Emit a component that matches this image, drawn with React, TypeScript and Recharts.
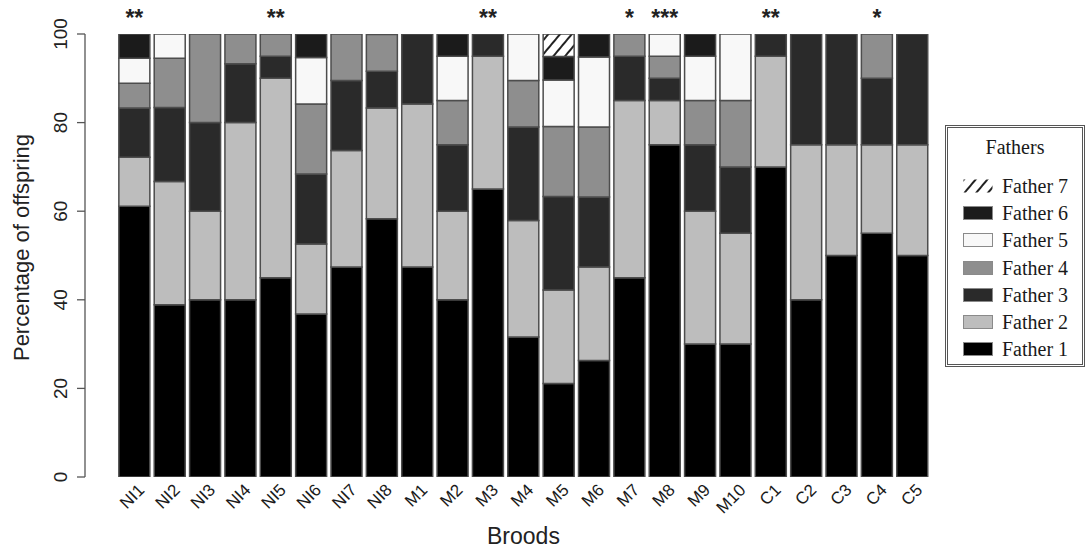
import React from 'react';
import { BarChart, Bar, XAxis, YAxis, LabelList, Label } from 'recharts';

const broods = ['NI1', 'NI2', 'NI3', 'NI4', 'NI5', 'NI6', 'NI7', 'NI8', 'M1', 'M2', 'M3', 'M4', 'M5', 'M6', 'M7', 'M8', 'M9', 'M10', 'C1', 'C2', 'C3', 'C4', 'C5'];
const father1 = [61.1, 38.9, 40, 40, 45, 36.8, 47.4, 58.3, 47.4, 40, 65, 31.6, 21.1, 26.3, 45, 75, 30, 30, 70, 40, 50, 55, 50];
const father2 = [11.1, 27.8, 20, 40, 45, 15.8, 26.3, 25, 36.8, 20, 30, 26.3, 21.1, 21.1, 40, 10, 30, 25, 25, 35, 25, 20, 25];
const father3 = [11.1, 16.7, 20, 13.3, 5, 15.8, 15.8, 8.3, 15.8, 15, 5, 21.1, 21.1, 15.8, 10, 5, 15, 15, 5, 25, 25, 15, 25];
const father4 = [5.6, 11.1, 20, 6.7, 5, 15.8, 10.5, 8.3, 0, 10, 0, 10.5, 15.8, 15.8, 5, 5, 10, 15, 0, 0, 0, 10, 0];
const father5 = [5.6, 5.6, 0, 0, 0, 10.5, 0, 0, 0, 10, 0, 10.5, 10.5, 15.8, 0, 5, 10, 15, 0, 0, 0, 0, 0];
const father6 = [5.6, 0, 0, 0, 0, 5.3, 0, 0, 0, 5, 0, 0, 5.3, 5.3, 0, 0, 5, 0, 0, 0, 0, 0, 0];
const father7 = [0, 0, 0, 0, 0, 0, 0, 0, 0, 0, 0, 0, 5.3, 0, 0, 0, 0, 0, 0, 0, 0, 0, 0];
const significance = ['**', '', '', '', '**', '', '', '', '', '', '**', '', '', '', '*', '***', '', '', '**', '', '', '*', ''];
const yTicks = [0, 20, 40, 60, 80, 100];
const STACK_TOTAL = 100;

const seriesKeys = ['f1', 'f2', 'f3', 'f4', 'f5', 'f6', 'f7'];
const seriesNames = ['Father 1', 'Father 2', 'Father 3', 'Father 4', 'Father 5', 'Father 6', 'Father 7'];
const seriesFills = ['#000000', '#bdbdbd', '#2a2a2a', '#8e8e8e', '#f8f8f8', '#1b1b1b', 'url(#hatch7)'];

const data = broods.map((b, i) => ({
  brood: b,
  f1: father1[i],
  f2: father2[i],
  f3: father3[i],
  f4: father4[i],
  f5: father5[i],
  f6: father6[i],
  f7: father7[i],
  sig: significance[i],
}));

const SANS = '"Liberation Sans", Arial, Helvetica, sans-serif';
const SERIF = '"Liberation Serif", "Times New Roman", serif';

const XTick = (props: any) => {
  const { x, y, payload } = props;
  const ax = x + 11;
  const ay = y + 14;
  return (
    <text x={ax} y={ay} transform={`rotate(-45, ${ax}, ${ay})`} textAnchor="end" fontSize={17} fontFamily={SANS} fill="#1a1a1a">
      {payload.value}
    </text>
  );
};

const YTick = (props: any) => {
  const { x, y, payload } = props;
  const ax = x - 8;
  return (
    <text x={ax} y={y} transform={`rotate(-90, ${ax}, ${y})`} textAnchor="middle" fontSize={19} fontFamily={SANS} fill="#222">
      {payload.value}
    </text>
  );
};

const PAD_LEFT = 31.85;

// Drawn from the Father 1 segment: its pixel height / value gives the scale,
// so the top of the 100% stack is derived from the library's y-scale.
const StarLabel = (props: any) => {
  const vb = props.viewBox || {};
  const x = vb.x ?? props.x;
  const y = vb.y ?? props.y;
  const width = vb.width ?? props.width;
  const height = vb.height ?? props.height;
  const idx = props.index;
  const sig = significance[idx];
  if (!sig) return null;
  const v = father1[idx];
  const bottom = y + height;
  const top = bottom - (height / v) * STACK_TOTAL;
  return (
    <text x={x + width / 2} y={top - 8} textAnchor="middle" fontSize={23} fontWeight="bold" fontFamily={SANS} fill="#222">
      {sig}
    </text>
  );
};

const legendOrder = [6, 5, 4, 3, 2, 1, 0];

const Swatch = ({ idx }: { idx: number }) => (
  <svg width={30} height={14} style={{ display: 'block' }}>
    <defs>
      <pattern id={`lh${idx}`} width="9" height="9" patternUnits="userSpaceOnUse" patternTransform="rotate(40)">
        <rect width="9" height="9" fill="#fff" />
        <line x1="1" y1="0" x2="1" y2="9" stroke="#222" strokeWidth="2" />
      </pattern>
    </defs>
    {idx === 6 ? (
      <rect x={0.5} y={0.5} width={29} height={13} fill={`url(#lh${idx})`} />
    ) : (
      <rect x={0.5} y={0.5} width={29} height={13} fill={seriesFills[idx]} stroke="#8a8a8a" strokeWidth={1} />
    )}
  </svg>
);

export default function App() {
  return (
    <div style={{ position: 'absolute', left: 0, top: 0, width: 1087, height: 550, background: '#fff' }}>
      <BarChart
        width={1087}
        height={550}
        data={data}
        margin={{ top: 34, right: 156.9, left: 0, bottom: 0 }}
        barSize={31}
      >
        <defs>
          <pattern id="hatch7" width="9" height="9" patternUnits="userSpaceOnUse" patternTransform="rotate(40)">
            <rect width="9" height="9" fill="#fff" />
            <line x1="1" y1="0" x2="1" y2="9" stroke="#222" strokeWidth="2" />
          </pattern>
        </defs>
        <XAxis
          dataKey="brood"
          type="category"
          height={73}
          padding={{ left: PAD_LEFT, right: 0 }}
          axisLine={false}
          tickLine={false}
          tickSize={0}
          tickMargin={0}
          interval={0}
          tick={<XTick />}
        >
          <Label
            content={(p: any) => {
              const vb = p.viewBox;
              const cx = vb.x + PAD_LEFT + (vb.width - PAD_LEFT) / 2;
              return (
                <text x={cx} y={vb.y + 67} textAnchor="middle" fontSize={23} fontFamily={SANS} fill="#222">
                  Broods
                </text>
              );
            }}
          />
        </XAxis>
        <YAxis
          type="number"
          domain={[0, 100]}
          ticks={yTicks}
          allowDataOverflow
          width={85}
          tickSize={8}
          tickMargin={2}
          axisLine={{ stroke: '#555', strokeWidth: 1.3 }}
          tickLine={{ stroke: '#555', strokeWidth: 1.3 }}
          tick={<YTick />}
        >
          <Label
            content={(p: any) => {
              const vb = p.viewBox;
              const cy = vb.y + vb.height / 2 - 8;
              const cx = vb.x + 29;
              return (
                <text x={cx} y={cy} transform={`rotate(-90, ${cx}, ${cy})`} textAnchor="middle" fontSize={22} fontFamily={SANS} fill="#222">
                  Percentage of offspring
                </text>
              );
            }}
          />
        </YAxis>
        {seriesKeys.map((k, i) => (
          <Bar
            key={k}
            dataKey={k}
            name={seriesNames[i]}
            stackId="a"
            fill={seriesFills[i]}
            stroke="#4d4d4d"
            strokeWidth={1.5}
            isAnimationActive={false}
          >
            {i === 0 ? <LabelList dataKey="sig" content={<StarLabel />} /> : null}
          </Bar>
        ))}
      </BarChart>
      <div
        style={{
          position: 'absolute',
          left: 945,
          top: 125,
          width: 140,
          height: 242,
          border: '3px double #555',
          boxSizing: 'border-box',
          fontFamily: SERIF,
          color: '#1a1a1a',
          background: '#fff',
        }}
      >
        <div style={{ position: 'absolute', left: 0, right: 0, top: 8, textAlign: 'center', fontSize: 20 }}>Fathers</div>
        {legendOrder.map((idx, r) => (
          <div
            key={idx}
            style={{ position: 'absolute', left: 15, top: 48 + r * 27.2, display: 'flex', alignItems: 'center', height: 20 }}
          >
            <Swatch idx={idx} />
            <span style={{ marginLeft: 9, fontSize: 20, lineHeight: '20px' }}>{seriesNames[idx]}</span>
          </div>
        ))}
      </div>
    </div>
  );
}
